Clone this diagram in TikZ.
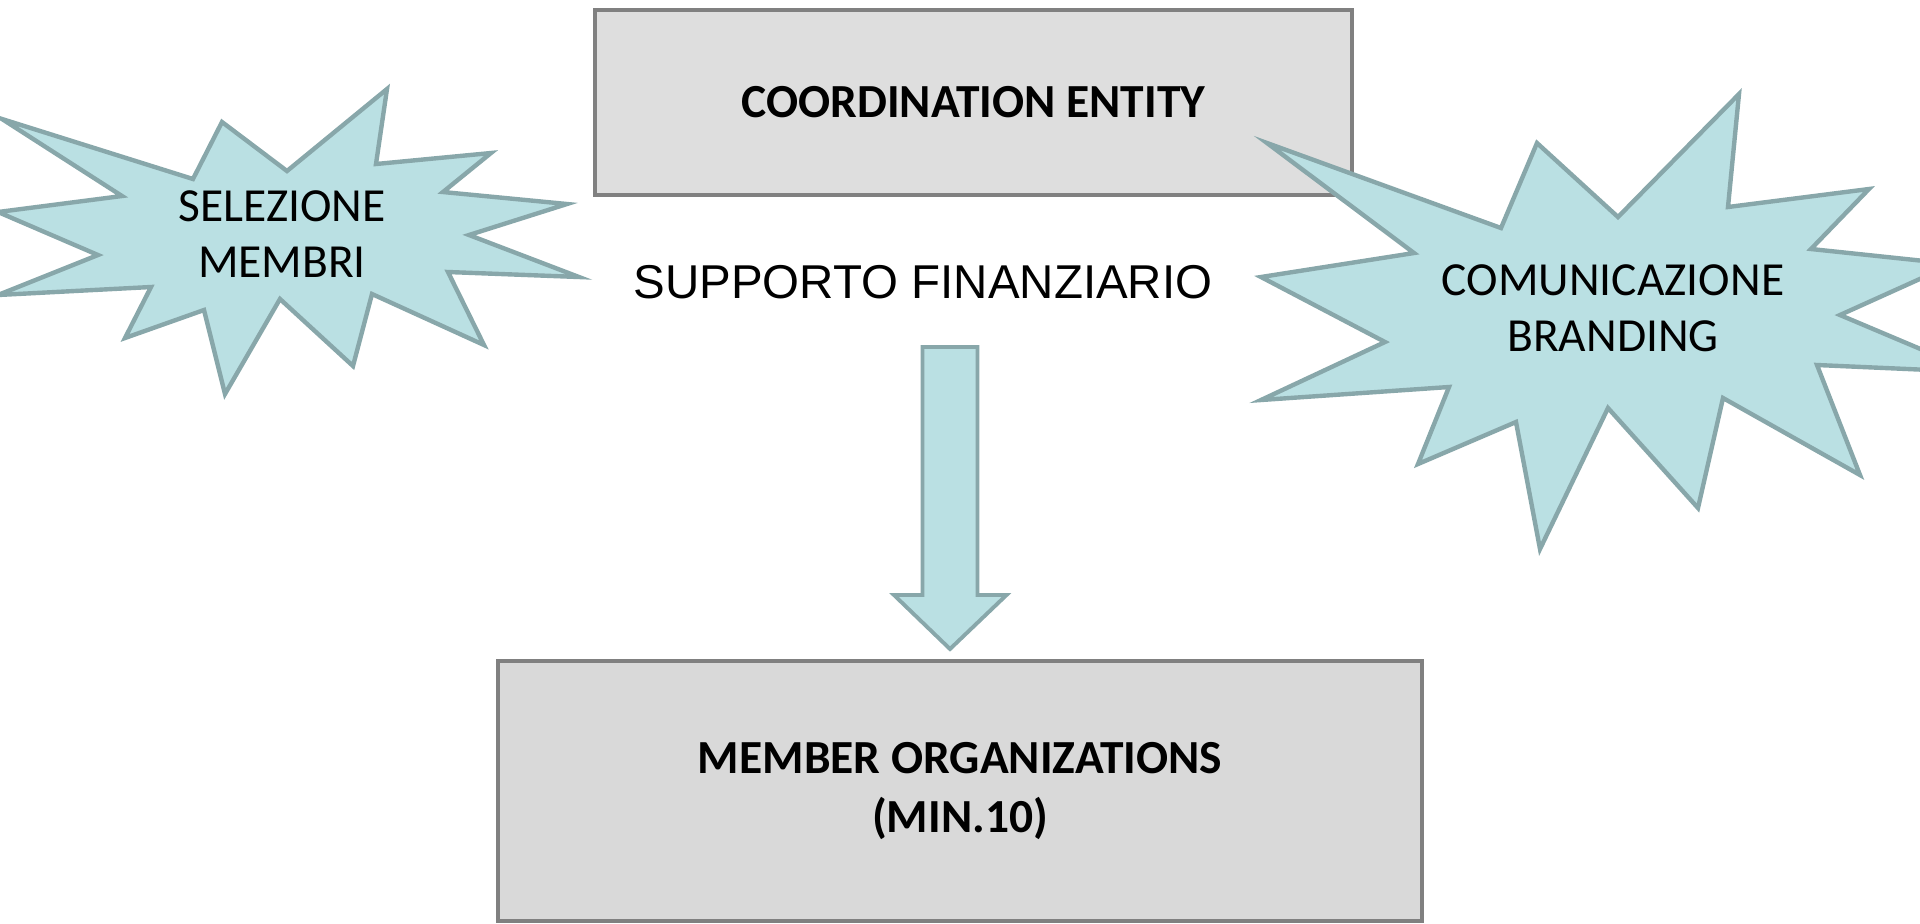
\documentclass[tikz,border=0pt]{standalone}
\usepackage{fontspec}
\setmainfont{Carlito}
\newfontfamily\arialfont{Liberation Sans}
\usepackage{tikz}

\begin{document}
\begin{tikzpicture}
			[x=0.01cm,y=-0.01cm,line join=miter,
			%Styles
			entity box/.style={draw=boxline,fill=#1,line width=1.25pt,minimum width=7.57cm,minimum height=1.85cm,align=center,font=\bfseries\fontsize{13.5}{16.8}\selectfont},
			burst/.style={draw=burstline,fill=burstfill,line width=1.25pt},
			burst text/.style={align=center,font=\fontsize{13.5}{16}\selectfont},
			blockarrow/.style={draw=burstline,fill=burstfill,line width=1.1pt}
			]
			
			%Colors
			\definecolor{burstfill}{HTML}{BAE0E3}
			\definecolor{burstline}{HTML}{88A7AA}
			\definecolor{boxline}{HTML}{808080}
			
			\useasboundingbox (0,0) rectangle (1920,923);
			\clip (0,0) rectangle (1920,923);
			
			%The graphic
			\node[entity box=black!13] (coord) at (973.5,102.5) {COORDINATION ENTITY};
			\node[entity box=black!15,minimum width=9.24cm,minimum height=2.6cm] (member) at (960,791) {MEMBER ORGANIZATIONS\\(MIN.10)};
			
			\node[font=\arialfont\fontsize{13.5}{16}\selectfont] (fund) at (923,282) {SUPPORTO FINANZIARIO};
			
			% left burst
			\draw[burst] (2,119) -- (193,179) -- (222,122) -- (287,171) -- (387,89) -- (376,164)
				-- (491,153) -- (443,192) -- (567,204) -- (469,235) -- (579,277) -- (448,272)
				-- (484,345) -- (372,294) -- (353,366) -- (280,299) -- (225,394) -- (204,310)
				-- (125,338) -- (151,287) -- (-2,295) -- (98,255) -- (-2,212) -- (122,196) -- cycle;
			\node[burst text] (sel) at (282,234) {SELEZIONE\\MEMBRI};
			
			% right burst
			\draw[burst] (1267,143) -- (1414,253) -- (1261,277) -- (1385,342) -- (1261,400) -- (1449,387)
				-- (1418,464) -- (1516,422) -- (1540,549) -- (1608,408) -- (1698,508) -- (1723,398)
				-- (1860,475) -- (1817,365) -- (1975,372) -- (1840,315) -- (1953,264) -- (1811,249)
				-- (1869,189) -- (1728,207) -- (1739,94) -- (1618,217) -- (1537,143) -- (1501,228) -- cycle;
			\node[burst text] (com) at (1613,308) {COMUNICAZIONE\\BRANDING};
			
			% arrow
			\coordinate (arrtop) at (950,347);
			\coordinate (arrtip) at (950,649);
			\draw[blockarrow] (arrtop) ++(-27.5,0) -- ++(55,0) -- ++(0,248) -- ++(29,0) -- (arrtip)
				-- ++(-56,-54) -- ++(28.5,0) -- cycle;
		\end{tikzpicture}
\end{document}
